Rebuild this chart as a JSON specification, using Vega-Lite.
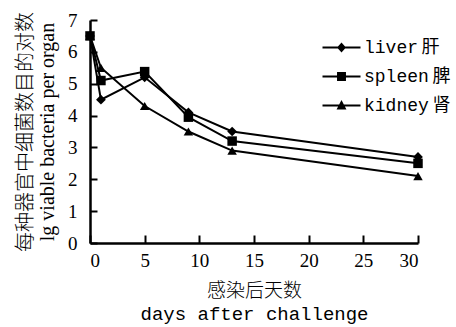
{
  "$schema": "https://vega.github.io/schema/vega-lite/v6.json",
  "autosize": "none",
  "padding": {"left": 90, "top": 20, "right": 38, "bottom": 84},
  "width": 328,
  "height": 223,
  "background": "white",
  "config": {
    "view": {"stroke": null},
    "axis": {
      "domainColor": "black", "domainWidth": 2.5, "tickColor": "black", "tickWidth": 2,
      "grid": false, "labelColor": "black", "titleColor": "black",
      "labelFont": "Liberation Serif", "labelFontSize": 19,
      "titleFontWeight": 300
    }
  },
  "data": {"values": [
    {"organ": "liver", "day": 0, "value": 6.5},
    {"organ": "liver", "day": 1, "value": 4.5},
    {"organ": "liver", "day": 5, "value": 5.2},
    {"organ": "liver", "day": 9, "value": 4.1},
    {"organ": "liver", "day": 13, "value": 3.5},
    {"organ": "liver", "day": 30, "value": 2.7},
    {"organ": "spleen", "day": 0, "value": 6.5},
    {"organ": "spleen", "day": 1, "value": 5.1},
    {"organ": "spleen", "day": 5, "value": 5.38},
    {"organ": "spleen", "day": 9, "value": 3.95},
    {"organ": "spleen", "day": 13, "value": 3.2},
    {"organ": "spleen", "day": 30, "value": 2.5},
    {"organ": "kidney", "day": 0, "value": 6.5},
    {"organ": "kidney", "day": 1, "value": 5.5},
    {"organ": "kidney", "day": 5, "value": 4.3},
    {"organ": "kidney", "day": 9, "value": 3.5},
    {"organ": "kidney", "day": 13, "value": 2.9},
    {"organ": "kidney", "day": 30, "value": 2.1}
  ]},
  "encoding": {
    "x": {"field": "day", "type": "quantitative",
      "scale": {"domain": [0, 30], "nice": false, "zero": false},
      "axis": {"values": [0, 5, 10, 15, 20, 25, 30], "tickSize": -8, "labelPadding": 16,
        "title": ["感染后天数", "days after challenge"], "titleFont": "Liberation Mono, Noto Sans CJK SC",
        "titleFontSize": 19, "titleLineHeight": 23, "titlePadding": 11}},
    "y": {"field": "value", "type": "quantitative",
      "scale": {"domain": [0, 7], "nice": false},
      "axis": {"values": [0, 1, 2, 3, 4, 5, 6, 7], "tickSize": -7, "labelPadding": 20,
        "title": ["每种器官中细菌数目的对数", "lg viable bacteria per organ"],
        "titleFont": "Liberation Serif, Noto Sans CJK SC", "titleFontSize": 20, "titleLineHeight": 22, "titlePadding": 10}}
  },
  "layer": [
    {
      "mark": {"type": "line", "color": "black", "strokeWidth": 2},
      "encoding": {"detail": {"field": "organ"}}
    },
    {
      "transform": [{"filter": "datum.organ == 'liver'"}],
      "mark": {"type": "point", "shape": "diamond", "filled": true, "color": "black", "opacity": 1, "size": 95}
    },
    {
      "transform": [{"filter": "datum.organ == 'spleen'"}],
      "mark": {"type": "point", "shape": "square", "filled": true, "color": "black", "opacity": 1, "size": 90}
    },
    {
      "transform": [{"filter": "datum.organ == 'kidney'"}],
      "mark": {"type": "point", "shape": "triangle-up", "filled": true, "color": "black", "opacity": 1, "size": 90}
    },
    {
      "transform": [{"filter": "datum.day < 0"}],
      "mark": {"type": "point", "filled": true, "color": "black", "opacity": 1, "size": 361},
      "encoding": {
        "shape": {"field": "organ", "type": "nominal",
          "scale": {"domain": ["liver", "spleen", "kidney"],
            "range": [
              "M-2,-0.1L2,-0.1L2,0.1L-2,0.1ZM0,-0.52L0.47,0L0,0.52L-0.47,0Z",
              "M-2,-0.1L2,-0.1L2,0.1L-2,0.1ZM-0.47,-0.47L0.47,-0.47L0.47,0.47L-0.47,0.47Z",
              "M-2,-0.1L2,-0.1L2,0.1L-2,0.1ZM0,-0.58L0.52,0.42L-0.52,0.42Z"]},
          "legend": {
            "title": null, "orient": "none", "legendX": 241, "legendY": 17, "padding": 0,
            "labelExpr": "datum.label == 'liver' ? 'liver\u2009肝' : datum.label == 'spleen' ? 'spleen\u2009脾' : 'kidney\u2009肾'",
            "labelFont": "Liberation Mono, Noto Sans CJK SC", "labelFontSize": 18, "labelColor": "black",
            "labelOffset": 12, "rowPadding": 9, "symbolSize": 361,
            "symbolFillColor": "black", "symbolStrokeColor": "black", "symbolOpacity": 1
          }
        }
      }
    }
  ]
}
